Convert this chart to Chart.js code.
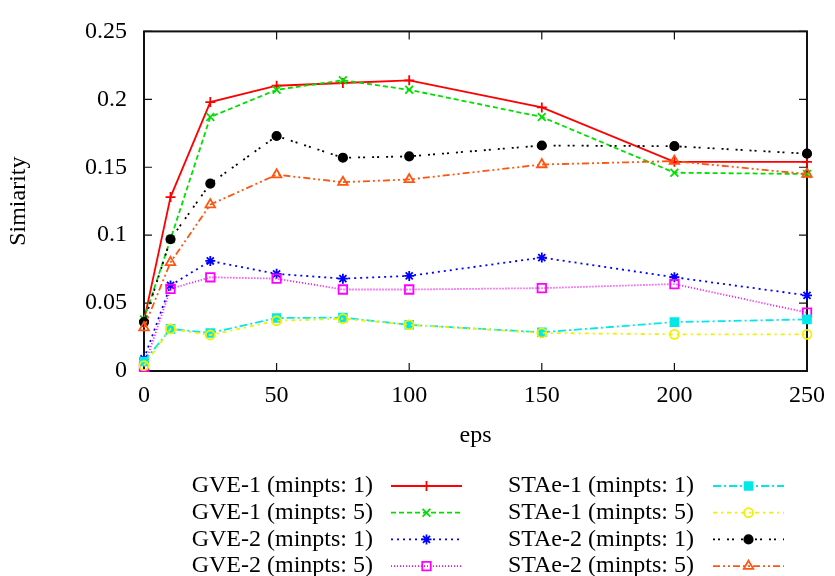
<!DOCTYPE html>
<html>
<head>
<meta charset="utf-8">
<script src="https://cdn.jsdelivr.net/npm/chart.js@4.4.1/dist/chart.umd.min.js"></script>
<style>
	html, body { margin: 0; padding: 0; background: #fff; }
	canvas { display: block; }
</style>
</head>
<body>
<canvas id="plot" width="835" height="576"></canvas>
<script>
// eps values on the x axis
const eps = [0, 10, 25, 50, 75, 100, 150, 200, 250];

// similarity per method
const gve1Min1 = [0.037, 0.128, 0.198, 0.210, 0.212, 0.214, 0.194, 0.154, 0.154];
const gve1Min5 = [0.038, 0.097, 0.187, 0.207, 0.214, 0.207, 0.187, 0.146, 0.145];
const gve2Min1 = [0.009, 0.063, 0.081, 0.0715, 0.068, 0.070, 0.0835, 0.069, 0.0557];
const gve2Min5 = [0.003, 0.0605, 0.069, 0.068, 0.060, 0.060, 0.061, 0.064, 0.043];
const stae1Min1 = [0.007, 0.031, 0.028, 0.039, 0.0393, 0.034, 0.0285, 0.036, 0.038];
const stae1Min5 = [0.004, 0.031, 0.0265, 0.037, 0.0385, 0.034, 0.028, 0.027, 0.027];
const stae2Min1 = [0.036, 0.097, 0.138, 0.173, 0.157, 0.158, 0.166, 0.1655, 0.160];
const stae2Min5 = [0.032, 0.080, 0.1225, 0.1445, 0.139, 0.141, 0.152, 0.1545, 0.145];

const labels = [
	'GVE-1 (minpts: 1)', 'GVE-1 (minpts: 5)', 'GVE-2 (minpts: 1)', 'GVE-2 (minpts: 5)',
	'STAe-1 (minpts: 1)', 'STAe-1 (minpts: 5)', 'STAe-2 (minpts: 1)', 'STAe-2 (minpts: 5)'
];

const serif = '"Liberation Serif", "Times New Roman", serif';
const fontSize = 24;

const styles = [
	{ values: gve1Min1, color: '#ff0000', dash: [], point: 'cross', radius: 5, fill: false },
	{ values: gve1Min5, color: '#00e000', dash: [5, 3], point: 'crossRot', radius: 5.5, fill: false },
	{ values: gve2Min1, color: '#0000ff', dash: [2, 4], point: 'star', radius: 5, fill: false },
	{ values: gve2Min5, color: '#ff00ff', dash: [1, 2], point: 'rect', radius: 6, fill: false },
	{ values: stae1Min1, color: '#00e8e8', dash: [8, 3, 2, 3], point: 'rect', radius: 5.5, fill: true },
	{ values: stae1Min5, color: '#f0f000', dash: [4, 4, 2, 4], point: 'circle', radius: 4.5, fill: false },
	{ values: stae2Min1, color: '#000000', dash: [2, 3, 2, 7], point: 'circle', radius: 4.2, fill: true },
	{ values: stae2Min5, color: '#ff5511', dash: [7, 3, 2, 3, 2, 3], point: 'triangle', radius: 5.5, fill: false }
];

const datasets = styles.map((s, i) => ({
	label: labels[i],
	data: eps.map((e, k) => ({ x: e, y: s.values[k] })),
	borderColor: s.color,
	borderWidth: 1.8,
	borderDash: s.dash,
	backgroundColor: s.fill ? s.color : 'rgba(0,0,0,0)',
	pointStyle: s.point,
	pointRadius: s.radius,
	pointBorderWidth: 1.8,
	pointBorderColor: s.color,
	pointBackgroundColor: s.fill ? s.color : 'rgba(0,0,0,0)',
	fill: false,
	lineTension: 0,
	clip: false,
	order: styles.length - i
}));

// box round the plot with inward ticks on all four sides
const frame = {
	id: 'frame',
	beforeDatasetsDraw(chart) {
		const { ctx, chartArea: a, scales: { x, y } } = chart;
		ctx.save();
		ctx.strokeStyle = '#111';
		ctx.lineWidth = 1.2;
		ctx.beginPath();
		x.ticks.forEach(t => {
			const px = x.getPixelForValue(t.value);
			ctx.moveTo(px, a.bottom); ctx.lineTo(px, a.bottom - 8);
			ctx.moveTo(px, a.top); ctx.lineTo(px, a.top + 8);
		});
		y.ticks.forEach(t => {
			const py = y.getPixelForValue(t.value);
			ctx.moveTo(a.left, py); ctx.lineTo(a.left + 8, py);
			ctx.moveTo(a.right, py); ctx.lineTo(a.right - 8, py);
		});
		ctx.stroke();
		ctx.lineWidth = 2;
		ctx.strokeRect(a.left, a.top, a.right - a.left, a.bottom - a.top);
		ctx.restore();
	}
};

// two column key, text right aligned before the sample line
const keyBox = {
	id: 'keyBox',
	afterDraw(chart) {
		const ctx = chart.ctx;
		const textRight = [373, 694];
		const lineStart = [391, 713];
		const lineEnd = [462, 784];
		ctx.save();
		ctx.font = fontSize + 'px ' + serif;
		ctx.textBaseline = 'middle';
		ctx.textAlign = 'right';
		chart.data.datasets.forEach((ds, i) => {
			const col = i < 4 ? 0 : 1;
			const yy = 486 + (i % 4) * 26.7;
			ctx.fillStyle = '#000';
			ctx.fillText(ds.label, textRight[col], yy);
			ctx.strokeStyle = ds.borderColor;
			ctx.lineWidth = ds.borderWidth;
			ctx.setLineDash(ds.borderDash);
			ctx.beginPath();
			ctx.moveTo(lineStart[col], yy);
			ctx.lineTo(lineEnd[col], yy);
			ctx.stroke();
			ctx.setLineDash([]);
			if (Chart.helpers && Chart.helpers.drawPoint) {
				ctx.fillStyle = ds.pointBackgroundColor;
				ctx.lineWidth = ds.pointBorderWidth;
				Chart.helpers.drawPoint(ctx, {
					pointStyle: ds.pointStyle,
					rotation: 0,
					radius: ds.pointRadius,
					borderWidth: ds.pointBorderWidth
				}, (lineStart[col] + lineEnd[col]) / 2, yy);
			}
		});
		ctx.restore();
	}
};

const plot = new Chart(document.getElementById('plot').getContext('2d'), {
	type: 'line',
	data: { datasets: datasets },
	plugins: [frame, keyBox],
	options: {
		responsive: false,
		animation: false,
		devicePixelRatio: 1,
		layout: {
			padding: { left: 0, right: 24, top: 17, bottom: 126 }
		},
		plugins: {
			legend: { display: false },
			tooltip: { enabled: false }
		},
		scales: {
			x: {
				type: 'linear',
				position: 'bottom',
				min: 0,
				max: 250,
				afterFit: s => { s.height = 79; },
				title: {
					display: true,
					text: 'eps',
					color: '#000',
					padding: { top: 0, bottom: 0 },
					font: { family: serif, size: fontSize }
				},
				grid: { display: false, drawTicks: false },
				border: { display: false },
				ticks: {
					stepSize: 50,
					padding: 10,
					maxRotation: 0,
					color: '#000',
					font: { family: serif, size: fontSize }
				}
			},
			y: {
				type: 'linear',
				min: 0,
				max: 0.25,
				afterFit: s => { s.width = 144; },
				title: {
					display: true,
					text: 'Simiarity',
					color: '#000',
					padding: { top: 4, bottom: 0 },
					font: { family: serif, size: fontSize }
				},
				grid: { display: false, drawTicks: false },
				border: { display: false },
				ticks: {
					stepSize: 0.05,
					padding: 17,
					color: '#000',
					font: { family: serif, size: fontSize },
					callback: v => String(+v.toFixed(2))
				}
			}
		}
	}
});
</script>
</body>
</html>
